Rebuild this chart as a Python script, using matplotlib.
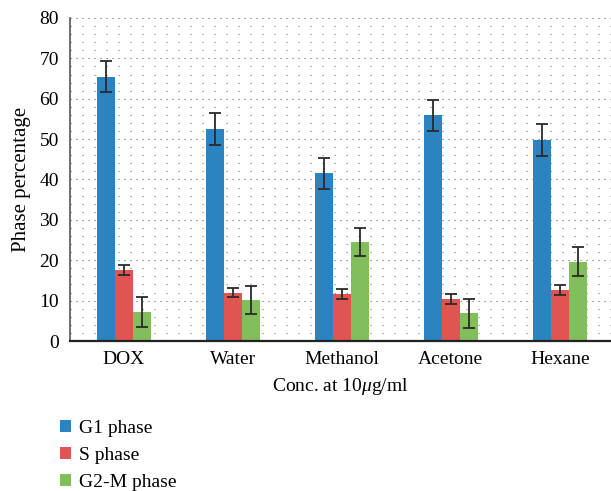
import numpy as np
import matplotlib
matplotlib.use("Agg")
import matplotlib.pyplot as plt
from matplotlib.ticker import MultipleLocator

BLUE, RED, GREEN, INK = "#2b83c1", "#e05452", "#82bf5c", "#2a2a2a"

categories = ["DOX", "Water", "Methanol", "Acetone", "Hexane"]
series = ["G1 phase", "S phase", "G2-M phase"]
g1 = [65.5, 52.5, 41.5, 55.9, 49.8]
g1_err = [3.9, 3.9, 3.9, 3.9, 4.0]
s_ph = [17.5, 12.0, 11.6, 10.4, 12.6]
s_err = [1.2, 1.2, 1.2, 1.2, 1.3]
g2m = [7.2, 10.2, 24.5, 6.9, 19.6]
g2m_err = [3.7, 3.5, 3.5, 3.6, 3.6]

plt.rcParams.update({"font.family": "Liberation Serif", "font.size": 14,
                     "mathtext.fontset": "custom", "mathtext.it": "Liberation Serif:italic"})

fig = plt.figure(figsize=(6.11, 4.91), dpi=100)
ax = fig.add_axes([70 / 611, (491 - 341) / 491, 541 / 611, 323 / 491])

x = np.arange(len(categories))
w = 0.165
for i, (vals, errs, col, lab) in enumerate(zip([g1, s_ph, g2m], [g1_err, s_err, g2m_err],
                                                [BLUE, RED, GREEN], series)):
    ax.bar(x + (i - 1) * w, vals, width=w, color=col, label=lab, zorder=2,
           yerr=errs, error_kw=dict(ecolor=INK, elinewidth=1.3, capsize=4, capthick=1.3))

ax.set_xlim(-0.495, 4.47)
ax.set_ylim(0, 80)
ax.yaxis.set_major_locator(MultipleLocator(10))
ax.yaxis.set_minor_locator(MultipleLocator(2))
ax.set_xticks(x)
ax.set_xticklabels(categories)
ax.tick_params(axis="both", which="both", length=0)
ax.tick_params(axis="x", pad=7)
ax.tick_params(axis="y", pad=8)
ax.grid(axis="y", which="major", color="#777777", lw=0.8, linestyle=(0, (1.1, 4.3)), zorder=0)
ax.grid(axis="y", which="minor", color="#888888", lw=0.8, linestyle=(0, (1.1, 9.7)), zorder=0)
ax.set_axisbelow(True)
for side in ["top", "right"]:
    ax.spines[side].set_visible(False)
ax.spines["left"].set_color("#555555")
ax.spines["left"].set_linewidth(1.2)
ax.spines["bottom"].set_color("#222222")
ax.spines["bottom"].set_linewidth(1.6)

ax.set_ylabel("Phase percentage", labelpad=6, fontsize=15)
ax.set_xlabel(r"Conc. at 10$\mathit{\mu}$g/ml", labelpad=6)

handles, labels = ax.get_legend_handles_labels()
fig.legend(handles, labels, loc="upper left", bbox_to_anchor=(52 / 611, 1 - 412 / 491),
           frameon=False, handlelength=0.6, handleheight=0.6, handletextpad=0.4,
           labelspacing=0.52, borderaxespad=0)

fig.savefig("out.png", dpi=100)
